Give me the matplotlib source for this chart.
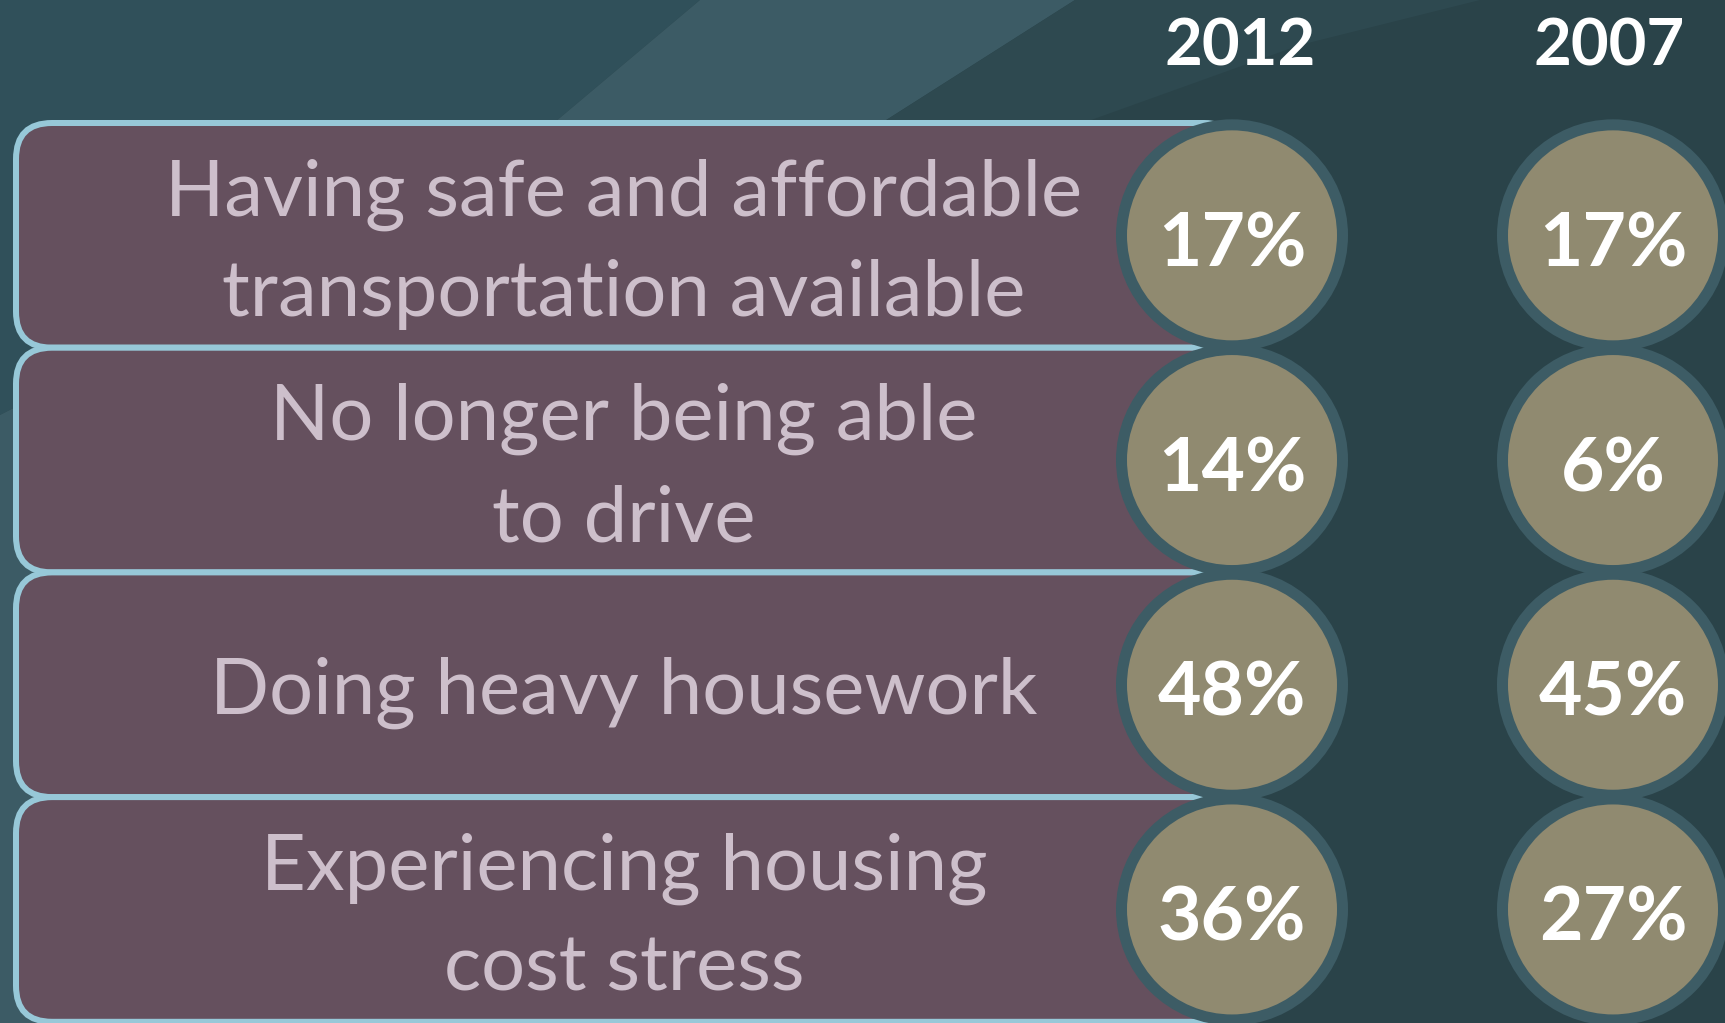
import matplotlib.pyplot as plt
from matplotlib.patches import FancyBboxPatch, Circle, Polygon

# chart content
labels = [
    ["Having safe and affordable", "transportation available"],
    ["No longer being able", "to drive"],
    ["Doing heavy housework"],
    ["Experiencing housing", "cost stress"],
]
years = ["2012", "2007"]
pct_2012 = [17, 14, 48, 36]
pct_2007 = [17, 6, 45, 27]

W, H = 1725, 1023
fig = plt.figure(figsize=(W / 100, H / 100), dpi=100)
ax = fig.add_axes([0, 0, 1, 1])
ax.set_xlim(0, W)
ax.set_ylim(H, 0)
ax.axis('off')
fig.patch.set_facecolor('#2a4349')

# background swooshes
ax.add_patch(Polygon([(0, 0), (700, 0), (555, 122), (300, 262), (0, 415)],
                     closed=True, fc='#30505a', ec='none', zorder=0))
ax.add_patch(Polygon([(700, 0), (1075, 0), (880, 124), (500, 600), (60, 1023),
                      (0, 1023), (0, 415), (300, 262), (555, 122)],
                     closed=True, fc='#3c5b65', ec='none', zorder=0))
ax.add_patch(Polygon([(1075, 0), (1480, 0), (1300, 45), (1080, 124), (880, 124)],
                     closed=True, fc='#2e4950', ec='none', zorder=0))

font = 'Lato'
top0 = 123
pitch = 224.7
col_x = [1232, 1613]
head_x = [1240, 1609]
px = 0.72  # points per pixel at 100 dpi

for i, lines in enumerate(labels):
    top = top0 + pitch * i
    cy = top + pitch / 2
    box = FancyBboxPatch((16, top), 1224, pitch,
                         boxstyle="round,pad=0,rounding_size=36",
                         fc='#65505e', ec='#97c8d8', lw=6 * px, zorder=2)
    ax.add_patch(box)
    if len(lines) == 1:
        offs = [29]
    else:
        offs = [-20, 81]
    for line, off in zip(lines, offs):
        ax.text(624, cy + off, line, ha='center', va='baseline',
                fontsize=56, color='#cdbfcb', family=font, zorder=5)

for j, vals in enumerate([pct_2012, pct_2007]):
    ax.text(head_x[j], 66, years[j], ha='center', va='baseline',
            fontsize=47, fontweight='bold', color='white', family=font, zorder=5)
    for i, v in enumerate(vals):
        cy = top0 + pitch * (i + 0.5)
        ax.add_patch(Circle((col_x[j], cy), 110.5, fc='#908a70', ec='#3d5c65',
                            lw=11 * px, zorder=3 + i * 0.01))
        ax.text(col_x[j], cy + 31, f"{v}%", ha='center', va='baseline',
                fontsize=54, fontweight='bold', color='white', family=font, zorder=5)

fig.savefig('out.png', dpi=100, facecolor=fig.get_facecolor())
